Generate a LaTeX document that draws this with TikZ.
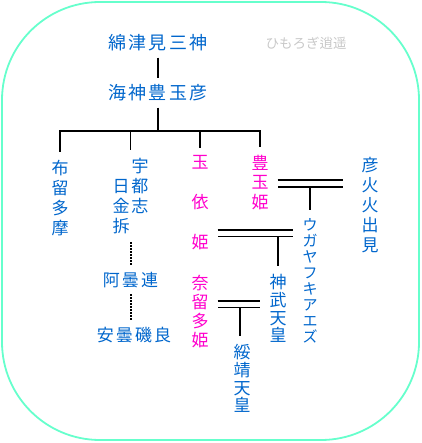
\documentclass[tikz,border=0pt]{standalone}
\usepackage{xcolor}
\usepackage{fontspec}
\usepackage{tikz}
\usetikzlibrary{positioning,calc}

\newfontfamily\jpfont{Noto Sans CJK JP}
\newfontfamily\jpwide[LetterSpace=12]{Noto Sans CJK JP}

\definecolor{kami}{RGB}{0,102,204}
\definecolor{hime}{RGB}{255,0,204}
\definecolor{waku}{RGB}{102,255,204}
\definecolor{usuzumi}{RGB}{200,200,200}

\begin{document}
\begin{tikzpicture}[x=1pt,y=-1pt,
    line/.style={line width=1.9pt},
    dots/.style={line width=2pt, dash pattern=on 1.6pt off 1.4pt},
    wed/.style={double, double distance=5pt, line width=1.8pt},
    yoko/.style={text=kami, inner ysep=6pt, font=\jpwide\fontsize{18}{20}\selectfont},
    tate/.style={text=kami, align=center, inner xsep=9pt, inner ysep=8pt, font=\jpfont\fontsize{17}{20}\selectfont}]

        % Frame
        \useasboundingbox (0,0) rectangle (421,443);
        \draw[waku, line width=1.8pt, rounded corners=98pt] (2,2) rectangle (419,440);

        % Top of the line
        \node[yoko] (wata) at (158,43) {綿津見三神};
        \node[text=usuzumi, font=\jpfont\fontsize{13.5}{14}\selectfont] (hiro) at (306,43) {ひもろぎ逍遥};
        \node[yoko] (kaijin) at (158,93) {海神豊玉彦};

        % Children
        \node[tate] (furu) at (60,198) {布\\留\\多\\摩};
        \node[tate] (utsushi) at (130.5,196) {\phantom{日}\hspace{2pt}宇\\日\hspace{2pt}都\\金\hspace{2pt}志\\拆\hspace{2pt}\phantom{志}};
        \node[tate, text=hime, font=\jpfont\fontsize{17}{40}\selectfont] (tamayori) at (200,203) {玉\\依\\姫};
        \node[tate, text=hime, font=\jpfont\fontsize{17}{19.5}\selectfont] (toyotama) at (260,182.5) {豊\\玉\\姫};

        % Azumi
        \node[yoko, font=\jpwide\fontsize{17}{20}\selectfont] (azumi) at (130.5,280) {阿曇連};
        \node[yoko, font=\jpwide\fontsize{17}{20}\selectfont] (isora) at (134,335) {安曇磯良};

        % Spouses and descendants
        \node[tate, inner xsep=18pt] (hoori) at (370,205) {彦\\火\\火\\出\\見};
        \node[tate, font=\jpfont\fontsize{15}{16}\selectfont] (ugaya) at (310,281) {ウ\\ガ\\ヤ\\フ\\キ\\ア\\エ\\ズ};
        \node[tate, text=hime, font=\jpfont\fontsize{17}{19}\selectfont] (naru) at (200,311.5) {奈\\留\\多\\姫};
        \node[tate, font=\jpfont\fontsize{17}{17.7}\selectfont] (jimmu) at (278,308.5) {神\\武\\天\\皇};
        \node[tate, font=\jpfont\fontsize{17}{17.7}\selectfont] (suizei) at (242,378.5) {綏\\靖\\天\\皇};

        % Tree
        \coordinate (bar) at (158,131);
        \draw[line] (wata) -- (kaijin);
        \draw[line] (kaijin.south) -- (bar);
        \draw[line] (furu.north) |- (bar) -| (toyotama.north);
        \foreach \c in {utsushi,tamayori}
          \draw[line] (\c.north |- bar) -- (\c.north);
        \draw[dots] (utsushi.south) -- (azumi.north);
        \draw[dots] (azumi.south) -- (azumi.south |- isora.north);

        % Marriages
        \coordinate (m1) at (310,183.5);
        \draw[wed] (toyotama.east |- m1) -- (hoori.west |- m1);
        \draw[line, shorten <=3.5pt] (m1) -- (ugaya.north);

        \coordinate (m2) at (278,233);
        \draw[wed] (tamayori.east |- m2) -- (ugaya.west |- m2);
        \draw[line, shorten <=3.5pt] (m2) -- (jimmu.north);

        \coordinate (m3) at (240,304);
        \draw[wed] (naru.east |- m3) -- (jimmu.west |- m3);
        \draw[line, shorten <=3.5pt] (m3) -- (m3 |- suizei.north);

      \end{tikzpicture}
\end{document}
